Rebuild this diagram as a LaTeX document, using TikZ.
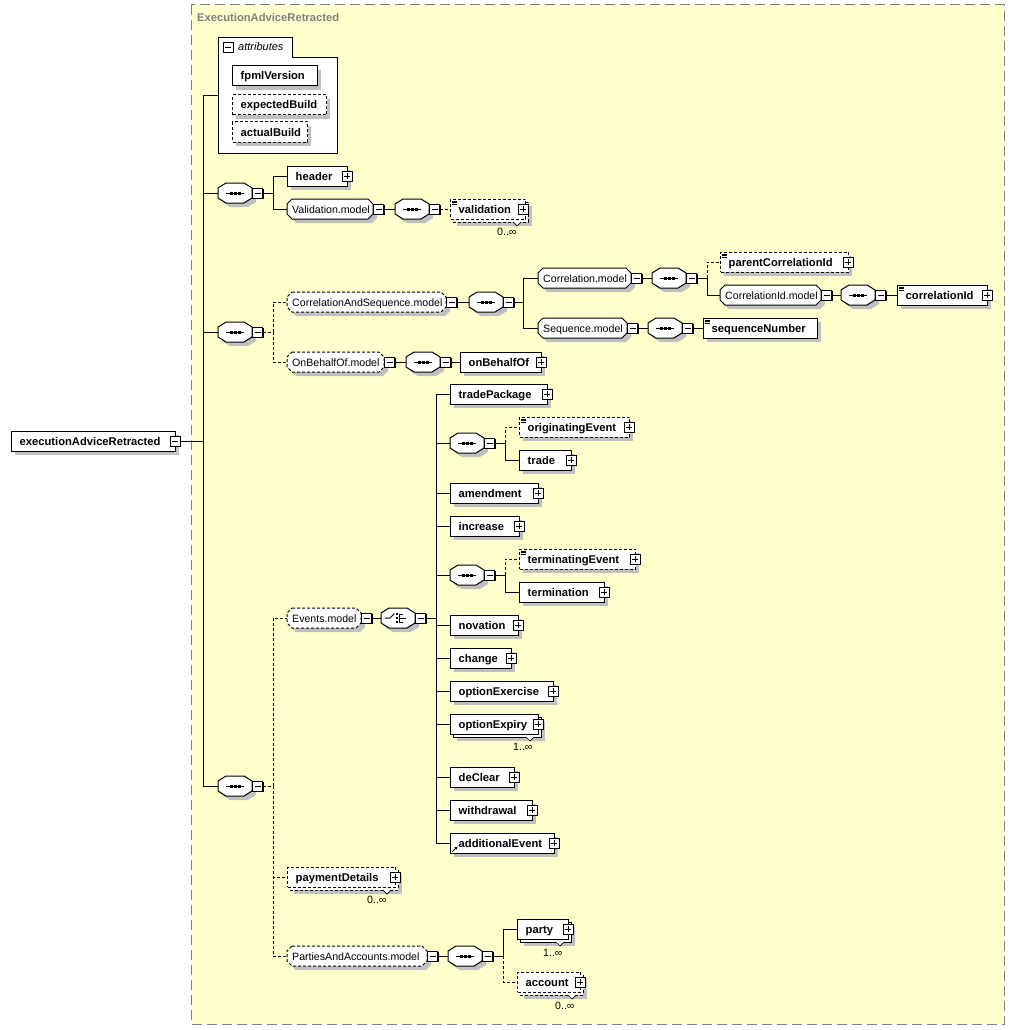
\documentclass[tikz,border=0pt]{standalone}
\usepackage{fontspec}
\setmainfont{Liberation Sans}
\usetikzlibrary{calc,arrows.meta}
\definecolor{bgy}{HTML}{FFFFCC}
\definecolor{shd}{HTML}{C0C0C0}
\definecolor{ttl}{HTML}{808080}
\tikzset{
 ln/.style={line width=1pt,black},
 opt/.style={dash pattern=on 3pt off 2pt},
 elfont/.style={font=\fontsize{11.2}{13}\selectfont\bfseries},
 grfont/.style={font=\fontsize{10.6}{12}\selectfont},
 txt/.style={inner sep=0pt,anchor=west},
 btxt/.style={inner sep=0pt,anchor=base west},
 ebox/.style={draw,fill=white,line width=1pt,inner sep=0pt,minimum height=20pt},
 pmbox/.style={draw,fill=white,line width=0.9pt,inner sep=0pt,minimum size=10pt},
}
\newcommand\octloc[3]{({#2},-10) -- ({#1-#2},-10) -- ({#1},{-10+#3}) -- ({#1},{10-#3}) -- ({#1-#2},10) -- ({#2},10) -- (0,{10-#3}) -- (0,{-10+#3}) -- cycle}
\newcommand\Mi[3]{%
 \fill ({#2-4},{#3-4}) rectangle ({#2+6},{#3+6});
 \node[pmbox] (#1) at ({#2},{#3}) {};
 \draw[line width=0.9pt] ({#2-3},{#3}) -- ({#2+3},{#3});}
\newcommand\Pl[2]{%
 \fill ({#1-4},{#2-4}) rectangle ({#1+6},{#2+6});
 \draw[line width=0.9pt,fill=white] ({#1-5},{#2-5}) rectangle ({#1+5},{#2+5});
 \draw[line width=0.9pt] ({#1-3},{#2}) -- ({#1+3},{#2}) ({#1},{#2-3}) -- ({#1},{#2+3});}
\newcommand\SI[2]{%
 \draw[line width=0.6pt] ({#1+2},{#2-8}) -- ++(5,0) ({#1+2},{#2-6.4}) -- ++(5,0) ({#1+2},{#2-4.8}) -- ++(5,0);}
% element
\newcommand\El[6]{%
 \pgfmathsetmacro\ew{#3-#2}
 \begin{scope}[shift={(#2,#4)}]
  \fill[shd] (4,-6) rectangle (\ew+4,14);
  \node[ebox,#6,minimum width=\ew pt,anchor=west] (#1) at (0,0) {};
  \node[btxt,elfont] (#1-t) at (8.5,4) {#5};
 \end{scope}}
% stacked element
\newcommand\ElS[6]{%
 \pgfmathsetmacro\ew{#3-#2}
 \begin{scope}[shift={(#2,#4)}]
  \fill[shd] (7,-3) rectangle (\ew+7,17);
  \draw[ln,#6,fill=white] (3,-7) rectangle (\ew+3,13);
  \draw[line width=0.7pt,fill=white] (\ew-12,13) -- (\ew-8,17) -- (\ew-4,13);
  \node[ebox,#6,minimum width=\ew pt,anchor=west] (#1) at (0,0) {};
  \node[btxt,elfont] (#1-t) at (8.5,4) {#5};
 \end{scope}}
% group
\newcommand\Gr[6]{%
 \pgfmathsetmacro\ew{#3-#2}
 \begin{scope}[shift={(#2,#4)}]
  \fill[shd,shift={(4,4)}] \octloc{\ew}{5}{5};
  \draw[ln,#6,fill=white] \octloc{\ew}{5}{5};
  \node[inner sep=0pt,minimum width=\ew pt,minimum height=20pt,anchor=west] (#1) at (0,0) {};
  \node[btxt,grfont] (#1-t) at (5,4) {#5};
 \end{scope}
 \Mi{#1-m}{#3+5.5}{#4}}
\newcommand\iconseq{%
 \draw[line width=1pt] (8,0) -- (26,0);
 \foreach \d in {-4,0,4} \fill ({17+\d-1.5},-1.5) rectangle ++(3,3);}
\newcommand\iconcho{%
 \draw[line width=1pt] (4,0) -- (9,0) -- (13.5,-4.5);
 \foreach \d in {-4,0,4} \fill (14.5,{\d-1}) rectangle ++(2,2);
 \draw[line width=1pt] (18,-4) -- (18,4) (18,-4) -- (21.5,-4) (18,4) -- (21.5,4) (18,0) -- (25,0);}
% compositor
\newcommand\Cp[4]{%
 \begin{scope}[shift={(#2,#3)}]
  \fill[shd,shift={(4,4)}] \octloc{34}{8}{5};
  \draw[ln,fill=white] \octloc{34}{8}{5};
  \node[inner sep=0pt,minimum width=34pt,minimum height=20pt,anchor=west] (#1) at (0,0) {};
  \csname icon#4\endcsname
 \end{scope}
 \Mi{#1-m}{#2+39.5}{#3}}
\begin{document}
\begin{tikzpicture}[x=1pt,y=-1pt]
\useasboundingbox (0,0) rectangle (1015,1030);
\fill[white] (0,0) rectangle (1015,1030);
\draw[ttl,line width=1pt,dash pattern=on 10pt off 5pt,fill=bgy] (191,5) rectangle (1004,1024);
\node[btxt,elfont,text=ttl] (title) at (197,22) {ExecutionAdviceRetracted};

% root
\El{root}{11}{175}{441}{executionAdviceRetracted}{solid}
\Mi{root-m}{175}{441}

% attributes
\draw[ln,fill=white] (218,38) -- (292,38) -- (292,58) -- (337,58) -- (337,153) -- (218,153) -- cycle;
\coordinate (attr) at (218,96);
\Mi{attr-m}{228}{47}
\node[btxt,font=\fontsize{11}{13}\selectfont\itshape] (attr-t) at (238,51) {attributes};
\El{fpml}{232}{317}{76}{fpmlVersion}{solid}
\El{expb}{232}{326}{105}{expectedBuild}{opt}
\El{actb}{232}{307}{132}{actualBuild}{opt}

% sequence 1
\Cp{s1}{218}{193}{seq}
\El{header}{287}{347}{176}{header}{solid}\Pl{347}{176}
\Gr{valm}{287}{373}{209}{Validation.model}{solid}
\Cp{vs}{395}{209}{seq}
\ElS{validation}{450}{525}{209}{validation}{opt}\Pl{523}{209}\SI{450}{209}
\node[txt,grfont] (mv) at (497,232) {0..∞};

% sequence 2
\Cp{s2}{218}{332}{seq}
\Gr{cas}{287}{446}{302}{CorrelationAndSequence.model}{opt}
\Cp{cs}{469}{302}{seq}
\Gr{corm}{538}{631}{278}{Correlation.model}{solid}
\Cp{cm}{652}{278}{seq}
\El{parent}{720}{848}{262}{parentCorrelationId}{opt}\Pl{848}{262}\SI{720}{262}
\Gr{cidm}{720}{821}{295}{CorrelationId.model}{solid}
\Cp{cim}{841}{295}{seq}
\El{corrid}{897}{987}{295}{correlationId}{solid}\Pl{987}{295}\SI{897}{295}
\Gr{seqm}{538}{627}{328}{Sequence.model}{solid}
\Cp{sm}{648}{328}{seq}
\El{seqnum}{703}{817}{328}{sequenceNumber}{solid}\SI{703}{328}
\Gr{obm}{287}{384}{362}{OnBehalfOf.model}{opt}
\Cp{ob}{406}{362}{seq}
\El{behalf}{460}{541}{362}{onBehalfOf}{solid}\Pl{541}{362}

% sequence 3
\Cp{s3}{218}{786}{seq}
\Gr{evm}{287}{361}{618}{Events.model}{opt}
\Cp{ev}{381}{618}{cho}
\El{tpack}{450}{547}{394}{tradePackage}{solid}\Pl{547}{394}
\Cp{e1}{450}{443}{seq}
\El{orig}{519}{629}{427}{originatingEvent}{opt}\Pl{629}{427}\SI{519}{427}
\El{trade}{519}{571}{460}{trade}{solid}\Pl{571}{460}
\El{amend}{450}{538}{493}{amendment}{solid}\Pl{538}{493}
\El{incr}{450}{519}{526}{increase}{solid}\Pl{519}{526}
\Cp{e2}{450}{575}{seq}
\El{termev}{519}{635}{559}{terminatingEvent}{opt}\Pl{635}{559}\SI{519}{559}
\El{term}{519}{604}{592}{termination}{solid}\Pl{604}{592}
\El{nov}{450}{518}{625}{novation}{solid}\Pl{518}{625}
\El{chg}{450}{511}{658}{change}{solid}\Pl{511}{658}
\El{oex}{450}{553}{691}{optionExercise}{solid}\Pl{553}{691}
\ElS{oexp}{450}{538}{724}{optionExpiry}{solid}\Pl{538}{724}
\node[txt,grfont] (mo) at (513,747) {1..∞};
\El{decl}{450}{514}{777}{deClear}{solid}\Pl{514}{777}
\El{wdr}{450}{532}{810}{withdrawal}{solid}\Pl{532}{810}
\El{addev}{450}{554}{843}{additionalEvent}{solid}\Pl{554}{843}
\draw[line width=0.9pt,-{Stealth[length=3pt,width=3.5pt]}] (452.5,851.5) -- (457.5,846.5);
\ElS{pay}{287}{395}{877}{paymentDetails}{opt}\Pl{395}{877}
\node[txt,grfont] (mp) at (367,900) {0..∞};
\Gr{pam}{287}{427}{956}{PartiesAndAccounts.model}{opt}
\Cp{pa}{448}{956}{seq}
\ElS{party}{517}{568}{929}{party}{solid}\Pl{568}{929}
\node[txt,grfont] (mpa) at (543,953) {1..∞};
\ElS{acct}{517}{580}{982}{account}{opt}\Pl{580}{982}
\node[txt,grfont] (mac) at (555,1006) {0..∞};

% connectors
\coordinate (t0) at (203,441);
\draw[ln] (root-m.east) -- (t0);
\draw[ln] (t0) |- (attr) (t0) |- (s1.west) (t0) |- (s2.west) (t0) |- (s3.west);
\coordinate (j1) at (273,193);
\draw[ln] (s1-m.east) -- (j1) |- (header.west) (j1) |- (valm.west);
\draw[ln] (valm-m.east) -- (vs.west);
\draw[ln,opt] (vs-m.east) -- (validation.west);
\coordinate (j2) at (273,332);
\draw[ln,opt] (s2-m.east) -- (j2) |- (cas.west) (j2) |- (obm.west);
\draw[ln] (cas-m.east) -- (cs.west);
\coordinate (j3) at (523,302);
\draw[ln] (cs-m.east) -- (j3) |- (corm.west) (j3) |- (seqm.west);
\draw[ln] (corm-m.east) -- (cm.west);
\coordinate (j4) at (707,278);
\draw[ln] (cm-m.east) -- (j4) |- (cidm.west);
\draw[ln,opt] (j4) |- (parent.west);
\draw[ln] (cidm-m.east) -- (cim.west);
\draw[ln] (cim-m.east) -- (corrid.west);
\draw[ln] (seqm-m.east) -- (sm.west);
\draw[ln] (sm-m.east) -- (seqnum.west);
\draw[ln] (obm-m.east) -- (ob.west);
\draw[ln] (ob-m.east) -- (behalf.west);
\coordinate (j5) at (273,786);
\draw[ln,opt] (s3-m.east) -- (j5) |- (evm.west) (j5) |- (pay.west) (j5) |- (pam.west);
\draw[ln] (evm-m.east) -- (ev.west);
\coordinate (j6) at (436,618);
\draw[ln] (ev-m.east) -- (j6);
\draw[ln] (j6) |- (tpack.west) (j6) |- (e1.west) (j6) |- (amend.west) (j6) |- (incr.west)
 (j6) |- (e2.west) (j6) |- (nov.west) (j6) |- (chg.west) (j6) |- (oex.west)
 (j6) |- (oexp.west) (j6) |- (decl.west) (j6) |- (wdr.west) (j6) |- (addev.west);
\coordinate (j7) at (505,443);
\draw[ln] (e1-m.east) -- (j7) |- (trade.west);
\draw[ln,opt] (j7) |- (orig.west);
\coordinate (j8) at (505,575);
\draw[ln] (e2-m.east) -- (j8) |- (term.west);
\draw[ln,opt] (j8) |- (termev.west);
\draw[ln] (pam-m.east) -- (pa.west);
\coordinate (j9) at (503,956);
\draw[ln] (pa-m.east) -- (j9) |- (party.west);
\draw[ln,opt] (j9) |- (acct.west);
\end{tikzpicture}
\end{document}
